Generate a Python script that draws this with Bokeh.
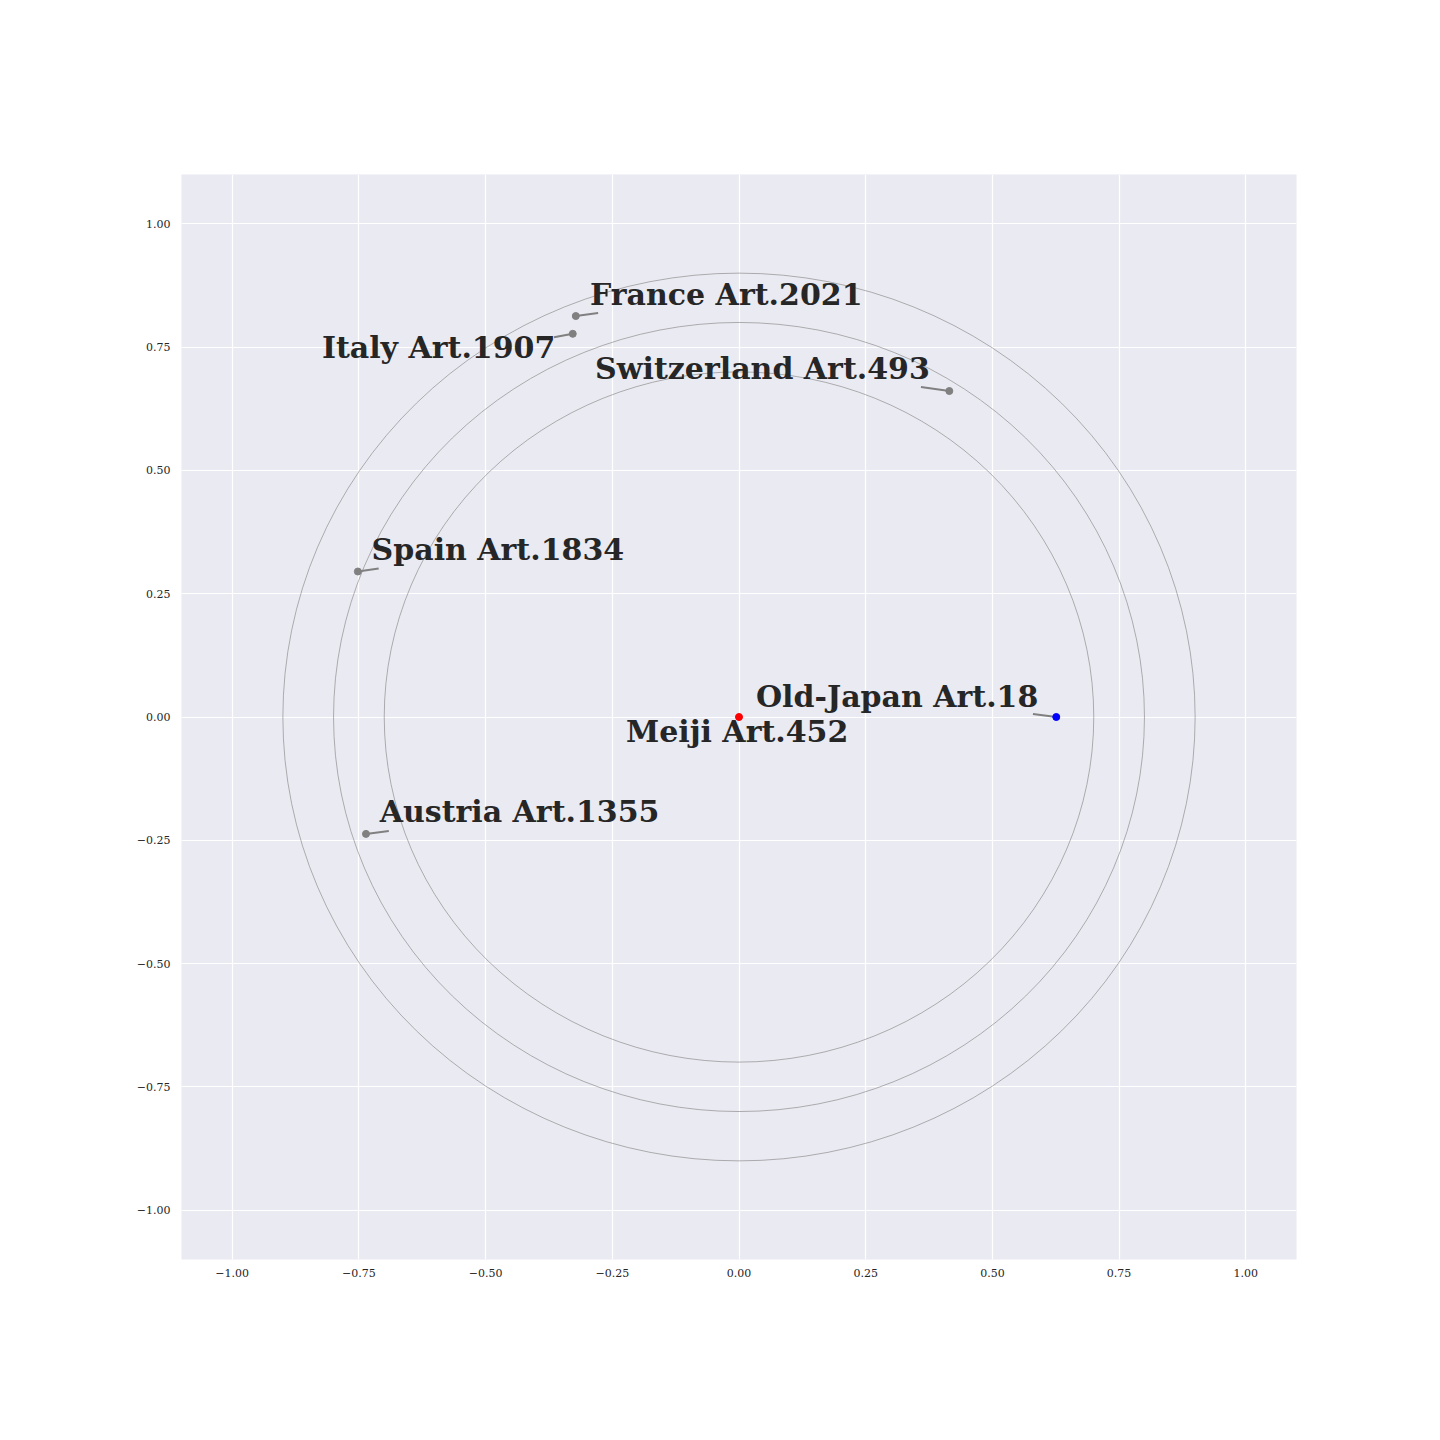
from bokeh.plotting import figure
from bokeh.models import Range1d, FixedTicker, ColumnDataSource
from bokeh.core.properties import value
from bokeh.embed import file_html
from bokeh.resources import INLINE

# data
names = ["Meiji Art.452", "Old-Japan Art.18", "France Art.2021", "Italy Art.1907",
         "Switzerland Art.493", "Spain Art.1834", "Austria Art.1355"]
px = [0.0, 0.626, -0.322, -0.328, 0.415, -0.752, -0.736]
py = [0.0, 0.0, 0.813, 0.777, 0.661, 0.295, -0.237]
pcolors = ["red", "blue", "gray", "gray", "gray", "gray", "gray"]
# label anchors (left, middle)
lx = [-0.223, 0.0335, -0.294, -0.823, -0.284, -0.725, -0.709]
ly = [-0.030, 0.042, 0.857, 0.750, 0.706, 0.340, -0.192]
# connector ends (Meiji: no connector)
cx = [0.0, 0.580, -0.278, -0.365, 0.359, -0.711, -0.691]
cy = [0.0, 0.006, 0.819, 0.770, 0.669, 0.301, -0.231]
radii = [0.7, 0.8, 0.9]
ticks = [-1.0, -0.75, -0.5, -0.25, 0.0, 0.25, 0.5, 0.75, 1.0]

W, H = 1424, 1424
p = figure(width=W, height=H, output_backend="svg", toolbar_location=None,
           x_range=Range1d(-1.1, 1.1), y_range=Range1d(-1.1, 1.1),
           min_border_left=181, min_border_right=128, min_border_top=174,
           min_border_bottom=165)
p.background_fill_color = "#EAEAF2"
p.border_fill_color = "white"
p.outline_line_color = None
for g in (p.xgrid, p.ygrid):
    g.grid_line_color = "white"
    g.grid_line_width = 1.2
for ax in (p.xaxis, p.yaxis):
    ax.ticker = FixedTicker(ticks=ticks)
    ax.major_label_overrides = {t: ("%.2f" % t).replace("-", "\u2212") for t in ticks}
    ax.axis_line_color = None
    ax.major_tick_line_color = None
    ax.major_tick_out = 0
    ax.major_tick_in = 0
    ax.minor_tick_line_color = None
    ax.minor_tick_out = 0
    ax.major_label_text_font = "DejaVu Serif"
    ax.major_label_text_font_size = "11px"
    ax.major_label_text_color = "#262626"
p.xaxis.major_label_standoff = 9
p.yaxis.major_label_standoff = 11

# circles
d = [2 * r for r in radii]
p.ellipse(x=[0] * len(radii), y=[0] * len(radii), width=d, height=d,
          fill_alpha=0, line_color="gray", line_width=0.6)

# connectors
sel = [i for i in range(len(names)) if (cx[i], cy[i]) != (px[i], py[i])]
p.segment(x0=[px[i] for i in sel], y0=[py[i] for i in sel],
          x1=[cx[i] for i in sel], y1=[cy[i] for i in sel],
          line_color="gray", line_width=2)

src = ColumnDataSource(dict(x=px, y=py, c=pcolors))
p.scatter(x="x", y="y", color="c", size=7, source=src)

p.text(x=lx, y=ly, text=names, text_font=value("DejaVu Serif"),
       text_font_style="bold", text_font_size="30px", text_color="#262626",
       text_align="left", text_baseline="middle")

open("out.html", "w").write(file_html(p, INLINE))
